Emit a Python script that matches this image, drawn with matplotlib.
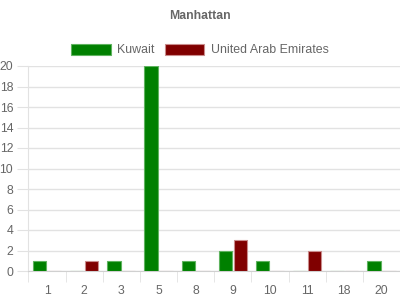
import matplotlib
matplotlib.use("Agg")
import matplotlib.pyplot as plt
import numpy as np

categories = ["1", "2", "3", "5", "8", "9", "10", "11", "18", "20"]
kuwait = [1, 0, 1, 20, 1, 2, 1, 0, 0, 1]
uae = [0, 1, 0, 0, 0, 3, 0, 2, 0, 0]
series_names = ["Kuwait", "United Arab Emirates"]
colors = ["#008000", "#800000"]
edge_colors = ["#5fb35f", "#c98c8c"]

plt.rcParams['font.family'] = ['Liberation Sans', 'DejaVu Sans']
grid_c = "#e2e2e2"
text_c = "#666666"

fig = plt.figure(figsize=(4, 3), dpi=100)
ax = fig.add_axes([28.5/400, 1-271/300, (400-28.5)/400, (271-66)/300])

x = np.arange(len(categories))
w = 0.36
b1 = ax.bar(x - 0.2, kuwait, w, color=colors[0], edgecolor=edge_colors[0], linewidth=0.8, label=series_names[0], zorder=3)
b2 = ax.bar(x + 0.2, uae, w, color=colors[1], edgecolor=edge_colors[1], linewidth=0.8, label=series_names[1], zorder=3)

ax.set_xlim(-0.5, len(categories) - 0.5)
ax.set_ylim(0, 20)
ax.set_yticks(range(0, 21, 2))
ax.set_xticks(x)
ax.set_xticklabels(categories)
ax.set_xticks(np.arange(-0.5, len(categories), 1.0), minor=True)

ax.grid(axis='y', color=grid_c, linewidth=1, zorder=0)
ax.tick_params(axis='y', length=8, color=grid_c, labelsize=8.8, labelcolor=text_c, pad=3)
ax.tick_params(axis='x', which='major', length=0, labelsize=8.8, labelcolor=text_c, pad=10)
ax.tick_params(axis='x', which='minor', length=8, color=grid_c)
for s in ['top', 'right']:
    ax.spines[s].set_visible(False)
ax.spines['left'].set_color(grid_c)
ax.spines['bottom'].set_color("#d0d0d0")

fig.text(0.5, 1-16/300, "Manhattan", ha='center', va='center', fontsize=8.8, fontweight='bold', color=text_c)

leg = fig.legend(handles=[b1, b2], loc='center', bbox_to_anchor=(0.5, 1-50/300), ncol=2,
                 frameon=False, fontsize=8.9, handlelength=3.2, handleheight=1.0,
                 handletextpad=0.55, columnspacing=0.8, borderpad=0, borderaxespad=0)
for t in leg.get_texts():
    t.set_color(text_c)

fig.savefig("out.png", dpi=100)
